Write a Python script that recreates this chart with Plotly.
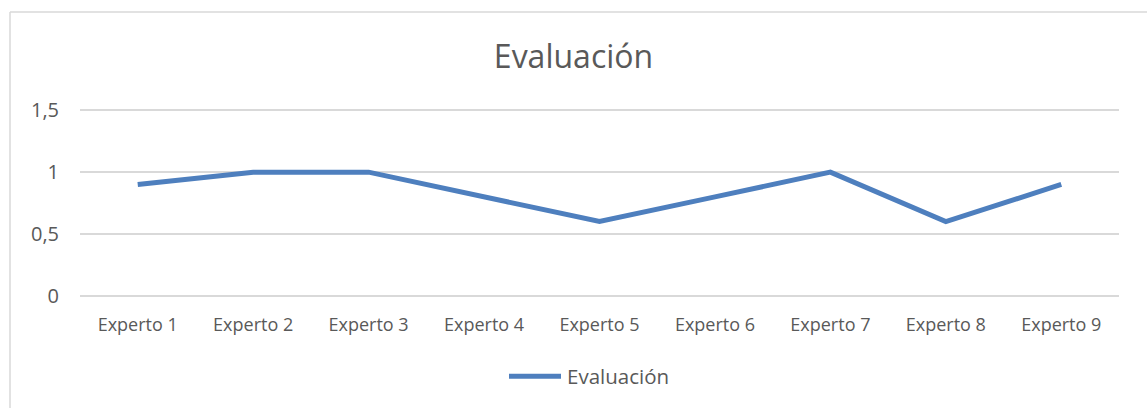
import plotly.graph_objects as go

categories = ["Experto 1", "Experto 2", "Experto 3", "Experto 4", "Experto 5",
              "Experto 6", "Experto 7", "Experto 8", "Experto 9"]
values = [0.9, 1.0, 1.0, 0.8, 0.6, 0.8, 1.0, 0.6, 0.9]
series_name = "Evaluación"
y_ticks = [0, 0.5, 1, 1.5]

W, H = 1147, 408
PAD = 0.02
PXU = 124  # pixels per y unit
L, R, T, B = 80, 28, 110 - PAD * PXU, 112 - PAD * PXU
PW, PH = W - L - R, H - T - B
FONT = "Open Sans"
TXT = "#595959"
GRID = "#D9D9D9"
LINE = "#4E7FBE"

fig = go.Figure()
fig.add_trace(go.Scatter(
    x=categories, y=values, mode="lines", name=series_name,
    line=dict(color=LINE, width=5), showlegend=False,
))

def px_x(x):
    return (x - L) / PW

def px_y(y):
    return (H - B - y) / PH

bx, by = px_x(10), px_y(11)
ly = px_y(377)

fig.update_layout(
    width=W, height=H,
    margin=dict(l=L, r=R, t=T, b=B, autoexpand=False),
    paper_bgcolor="white", plot_bgcolor="white",
    separators=",.",
    font=dict(family=FONT, color=TXT),
    title=dict(text="Evaluación", x=0.5, xanchor="center", y=1 - 57 / H, yanchor="middle",
               font=dict(size=32, color=TXT, family=FONT)),
    showlegend=False,
    xaxis=dict(range=[-0.5, 8.5], showgrid=False, showline=False, ticks="", zeroline=False,
               automargin=False, ticklabelstandoff=14,
               tickfont=dict(size=18, color=TXT, family=FONT)),
    yaxis=dict(range=[-PAD, 1.5 + PAD], tickvals=y_ticks, showgrid=True, gridcolor=GRID,
               gridwidth=1.5, zeroline=False, showline=False, ticks="", automargin=False,
               tickfont=dict(size=20, color=TXT, family=FONT), ticklabelstandoff=20),
    shapes=[
        dict(type="line", xref="paper", yref="paper", x0=bx, x1=1.2, y0=by, y1=by,
             line=dict(color=GRID, width=1.5)),
        dict(type="line", xref="paper", yref="paper", x0=bx, x1=bx, y0=by, y1=-1,
             line=dict(color=GRID, width=1.5)),
        dict(type="line", xref="paper", yref="paper", x0=px_x(509), x1=px_x(561), y0=ly, y1=ly,
             line=dict(color=LINE, width=5)),
    ],
    annotations=[
        dict(text=series_name, xref="paper", yref="paper", x=px_x(565), y=ly,
             xanchor="left", yanchor="middle", showarrow=False,
             font=dict(size=20.5, color=TXT, family=FONT)),
    ],
)

fig.write_html("out.html", post_script="document.body.style.margin='0';",
               config={"displayModeBar": False})
